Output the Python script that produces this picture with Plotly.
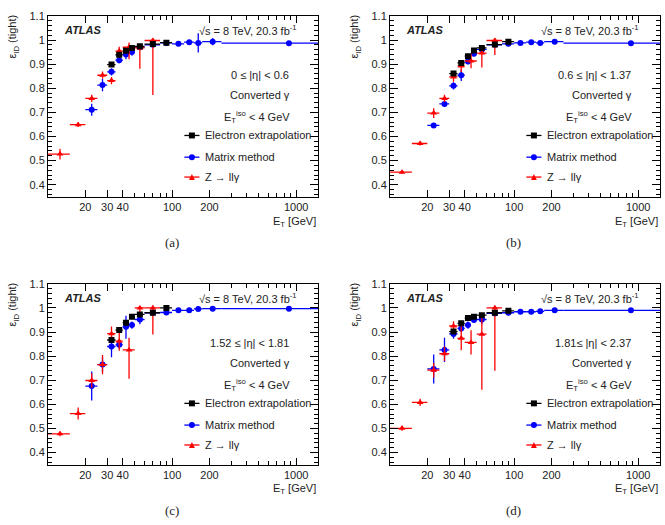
import plotly.graph_objects as go

# ---------------- data ----------------
z_edges = [10, 15, 20, 25, 30, 35, 40, 50, 60, 80]
ee_edges = [30, 35, 40, 45, 50, 60, 80, 100]
mm_edges = [20, 25, 30, 35, 40, 45, 50, 60, 80, 100, 125, 150, 175, 250, 1500]

x_tick_vals = [20, 30, 40, 100, 200, 1000]
x_tick_text = ["20", "30", "40", "100", "200", "1000"]
x_minor_vals = [50, 60, 70, 80, 90, 300, 400, 500, 600, 700, 800, 900]
y_tick_vals = [0.4, 0.5, 0.6, 0.7, 0.8, 0.9, 1.0, 1.1]
y_tick_text = ["0.4", "0.5", "0.6", "0.7", "0.8", "0.9", "1", "1.1"]

# panel (a) 0 <= |eta| < 0.6
ee_a = [0.898, 0.939, 0.955, 0.967, 0.974, 0.983, 0.989]
ee_a_err = [0.008, 0.007, 0.006, 0.005, 0.005, 0.005, 0.005]
mm_a = [0.711, 0.813, 0.868, 0.916, 0.940, 0.950, 0.970, 0.980, 0.988, 0.984, 0.991, 0.988, 0.993, 0.987]
mm_a_up = [0.025, 0.025, 0.015, 0.012, 0.020, 0.015, 0.010, 0.010, 0.006, 0.006, 0.006, 0.040, 0.015, 0.006]
mm_a_dn = [0.025, 0.025, 0.015, 0.012, 0.020, 0.015, 0.010, 0.010, 0.006, 0.006, 0.006, 0.040, 0.015, 0.006]
z_a = [0.527, 0.649, 0.758, 0.854, 0.832, 0.954, 0.970, 0.967, 0.998]
z_a_up = [0.022, 0.010, 0.015, 0.015, 0.015, 0.018, 0.020, 0.018, 0.008]
z_a_dn = [0.022, 0.010, 0.015, 0.015, 0.015, 0.029, 0.050, 0.086, 0.226]

# panel (b) 0.6 <= |eta| < 1.37
ee_b = [0.861, 0.905, 0.933, 0.957, 0.967, 0.981, 0.993]
ee_b_err = [0.007, 0.007, 0.006, 0.005, 0.005, 0.005, 0.005]
mm_b = [0.646, 0.735, 0.810, 0.854, 0.911, 0.943, 0.961, 0.980, 0.984, 0.988, 0.991, 0.988, 0.993, 0.987]
mm_b_up = [0.010, 0.012, 0.015, 0.024, 0.012, 0.010, 0.008, 0.006, 0.005, 0.005, 0.005, 0.005, 0.005, 0.005]
mm_b_dn = [0.010, 0.012, 0.015, 0.024, 0.012, 0.010, 0.008, 0.006, 0.005, 0.005, 0.005, 0.005, 0.005, 0.005]
z_b = [0.452, 0.571, 0.697, 0.758, 0.847, 0.892, 0.913, 0.946, 0.998]
z_b_up = [0.006, 0.008, 0.020, 0.015, 0.020, 0.025, 0.030, 0.020, 0.010]
z_b_dn = [0.006, 0.008, 0.020, 0.015, 0.020, 0.025, 0.030, 0.060, 0.060]

# panel (c) 1.52 <= |eta| < 1.81
ee_c = [0.867, 0.908, 0.939, 0.963, 0.973, 0.980, 1.000]
ee_c_err = [0.008, 0.007, 0.006, 0.005, 0.005, 0.005, 0.005]
mm_c = [0.676, 0.765, 0.840, 0.847, 0.922, 0.929, 0.952, 0.980, 0.981, 0.990, 0.990, 0.996, 0.997, 0.997]
mm_c_up = [0.060, 0.030, 0.045, 0.015, 0.045, 0.015, 0.020, 0.010, 0.006, 0.005, 0.005, 0.005, 0.005, 0.005]
mm_c_dn = [0.060, 0.030, 0.045, 0.015, 0.050, 0.015, 0.020, 0.010, 0.006, 0.005, 0.005, 0.005, 0.005, 0.005]
z_c = [0.478, 0.562, 0.699, 0.765, 0.893, 0.862, 0.826, 1.000, 1.000]
z_c_up = [0.010, 0.025, 0.030, 0.040, 0.030, 0.040, 0.050, 0.005, 0.010]
z_c_dn = [0.010, 0.025, 0.030, 0.040, 0.030, 0.040, 0.120, 0.020, 0.110]

# panel (d) 1.81 <= |eta| < 2.37
ee_d = [0.902, 0.936, 0.958, 0.963, 0.970, 0.980, 0.988]
ee_d_err = [0.008, 0.007, 0.006, 0.005, 0.005, 0.005, 0.005]
mm_d = [0.747, 0.826, 0.892, 0.915, 0.929, 0.950, 0.952, 0.977, 0.980, 0.984, 0.984, 0.986, 0.990, 0.990]
mm_d_up = [0.060, 0.050, 0.020, 0.015, 0.015, 0.010, 0.020, 0.010, 0.006, 0.006, 0.006, 0.006, 0.006, 0.006]
mm_d_dn = [0.060, 0.050, 0.020, 0.015, 0.015, 0.010, 0.020, 0.010, 0.006, 0.006, 0.006, 0.006, 0.006, 0.006]
z_d = [0.501, 0.608, 0.742, 0.810, 0.925, 0.874, 0.857, 0.891, 1.000]
z_d_up = [0.010, 0.015, 0.030, 0.030, 0.020, 0.050, 0.050, 0.070, 0.010]
z_d_dn = [0.010, 0.015, 0.030, 0.030, 0.020, 0.050, 0.050, 0.230, 0.260]

eta_labels = ["0 \u2264 |\u03b7| < 0.6", "0.6 \u2264 |\u03b7| < 1.37",
              "1.52 \u2264 |\u03b7| < 1.81", "1.81\u2264 |\u03b7| < 2.37"]
captions = ["(a)", "(b)", "(c)", "(d)"]
legend_names = ["Electron extrapolation", "Matrix method", "Z \u2192 ll\u03b3"]

panels = [
    (ee_a, ee_a_err, mm_a, mm_a_up, mm_a_dn, z_a, z_a_up, z_a_dn),
    (ee_b, ee_b_err, mm_b, mm_b_up, mm_b_dn, z_b, z_b_up, z_b_dn),
    (ee_c, ee_c_err, mm_c, mm_c_up, mm_c_dn, z_c, z_c_up, z_c_dn),
    (ee_d, ee_d_err, mm_d, mm_d_up, mm_d_dn, z_d, z_d_up, z_d_dn),
]


def centers(edges):
    return [(edges[i] + edges[i + 1]) / 2 for i in range(len(edges) - 1)]


def halfw(edges):
    return [(edges[i + 1] - edges[i]) / 2 for i in range(len(edges) - 1)]


# ---------------- layout geometry (pixels) ----------------
W, H = 665, 525
PW, PH = 270, 183
lefts = [48, 390, 48, 390]
tops = [10, 10, 281, 281]

FONT = "Liberation Sans, Arial, Helvetica, sans-serif"
BLACK = "#000000"
BLUE = "#0000ff"
RED = "#ff0000"

fig = go.Figure()
annotations = []
shapes = []

for i, (ee, ee_err, mm, mm_up, mm_dn, zz, zz_up, zz_dn) in enumerate(panels):
    sfx = "" if i == 0 else str(i + 1)
    xa, ya = "x" + sfx, "y" + sfx
    # Matrix method
    fig.add_trace(go.Scatter(
        x=centers(mm_edges), y=mm, mode="markers", name=legend_names[1],
        xaxis=xa, yaxis=ya, showlegend=False,
        marker=dict(symbol="circle", size=6, color=BLUE),
        error_x=dict(type="data", array=halfw(mm_edges), width=0, thickness=1.3, color=BLUE),
        error_y=dict(type="data", array=mm_up, arrayminus=mm_dn, width=0, thickness=1.3, color=BLUE),
    ))
    # Z -> ll gamma
    fig.add_trace(go.Scatter(
        x=centers(z_edges), y=zz, mode="markers", name=legend_names[2],
        xaxis=xa, yaxis=ya, showlegend=False,
        marker=dict(symbol="triangle-up", size=6, color=RED),
        error_x=dict(type="data", array=halfw(z_edges), width=0, thickness=1.3, color=RED),
        error_y=dict(type="data", array=zz_up, arrayminus=zz_dn, width=0, thickness=1.3, color=RED),
    ))
    # Electron extrapolation
    fig.add_trace(go.Scatter(
        x=centers(ee_edges), y=ee, mode="markers", name=legend_names[0],
        xaxis=xa, yaxis=ya, showlegend=False,
        marker=dict(symbol="square", size=6, color=BLACK),
        error_x=dict(type="data", array=halfw(ee_edges), width=0, thickness=1.3, color=BLACK),
        error_y=dict(type="data", array=ee_err, width=0, thickness=1.3, color=BLACK),
    ))

    x0 = lefts[i] / W
    x1 = (lefts[i] + PW) / W
    y1 = 1 - tops[i] / H
    y0 = 1 - (tops[i] + PH) / H
    axis_common = dict(
        showline=True, linecolor=BLACK, linewidth=1, mirror="ticks",
        ticks="inside", tickcolor=BLACK, showgrid=False, zeroline=False,
        tickfont=dict(family=FONT, size=11, color="#222"),
    )
    fig.update_layout(**{
        "xaxis" + sfx: dict(
            domain=[x0, x1], anchor=ya, type="log", range=[1, 3.1761],
            tickmode="array", tickvals=x_tick_vals, ticktext=x_tick_text, ticklen=7,
            minor=dict(tickmode="array", tickvals=x_minor_vals, ticks="inside", ticklen=4,
                       tickcolor=BLACK, showgrid=False),
            **axis_common),
        "yaxis" + sfx: dict(
            domain=[y0, y1], anchor=xa, range=[0.35, 1.1],
            tickmode="array", tickvals=y_tick_vals, ticktext=y_tick_text, ticklen=8,
            minor=dict(dtick=0.02, ticks="inside", ticklen=4, tickcolor=BLACK, showgrid=False),
            **axis_common),
    })

    xd, yd = xa + " domain", ya + " domain"

    def ann(text, x, y, xanchor="left", size=11, **kw):
        d = dict(text=text, x=x, y=y, xref=xd, yref=yd, xanchor=xanchor, yanchor="middle",
                 showarrow=False, font=dict(family=FONT, size=size, color="#222"))
        d.update(kw)
        annotations.append(d)

    ann("<b><i>ATLAS</i></b>", 0.052, 0.923)
    ann("\u221as = 8 TeV, 20.3 fb<sup>-1</sup>", 0.928, 0.923, xanchor="right")
    ann(eta_labels[i], 0.9, 0.672, xanchor="right")
    ann("Converted \u03b3", 0.905, 0.563, xanchor="right")
    ann("E<sub>T</sub><sup>iso</sup> < 4 GeV", 0.905, 0.443, xanchor="right")
    leg_y = [0.339, 0.219, 0.109]
    cols = [BLACK, BLUE, RED]
    mx = 0.533
    for k in range(3):
        ann(legend_names[k], 0.574, leg_y[k])
        shapes.append(dict(type="line", xref=xd, yref=yd, x0=mx - 0.028, x1=mx + 0.028,
                           y0=leg_y[k], y1=leg_y[k], line=dict(color=cols[k], width=1.3)))
    dx, dy = 3 / PW, 3 / PH
    shapes.append(dict(type="rect", xref=xd, yref=yd, x0=mx - dx, x1=mx + dx,
                       y0=leg_y[0] - dy, y1=leg_y[0] + dy, fillcolor=BLACK, line=dict(width=0)))
    shapes.append(dict(type="circle", xref=xd, yref=yd, x0=mx - dx, x1=mx + dx,
                       y0=leg_y[1] - dy, y1=leg_y[1] + dy, fillcolor=BLUE, line=dict(width=0)))
    shapes.append(dict(type="path", xref=xd, yref=yd,
                       path=f"M {mx - dx} {leg_y[2] - dy} L {mx + dx} {leg_y[2] - dy} L {mx} {leg_y[2] + dy} Z",
                       fillcolor=RED, line=dict(width=0)))

    # axis titles
    ann("\u03b5<sub>ID</sub> (tight)", -0.13, 0.885, xanchor="center", textangle=-90)
    ann("E<sub>T</sub> [GeV]", 1.0, -0.137, xanchor="right")
    ann(captions[i], 0.459, -0.255, xanchor="center", size=13,
        font=dict(family="Liberation Serif, Times New Roman, serif", size=13, color="#222"))

fig.update_layout(
    width=W, height=H, margin=dict(l=0, r=0, t=0, b=0),
    paper_bgcolor="white", plot_bgcolor="white",
    annotations=annotations, shapes=shapes, showlegend=False,
)

fig.write_html("out.html", config={"displayModeBar": False},
               post_script="document.body.style.margin='0';document.body.style.overflow='hidden';")
